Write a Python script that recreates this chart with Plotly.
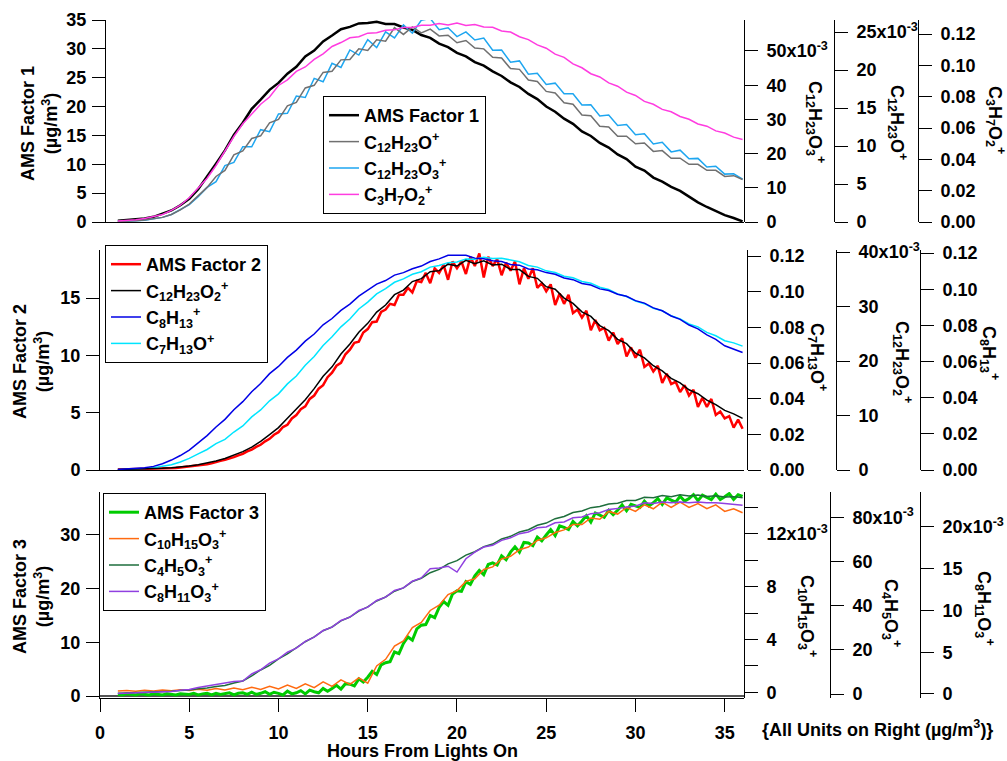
import plotly.graph_objects as go

# ---------------- data ----------------
HOURS = [1.0, 1.5, 2.0, 2.5, 3.0, 3.5, 4.0, 4.5, 5.0, 5.5, 6.0, 6.5, 7.0, 7.5, 8.0, 8.5,
         9.0, 9.5, 10.0, 10.5, 11.0, 11.5, 12.0, 12.5, 13.0, 13.5, 14.0, 14.5, 15.0, 15.5,
         16.0, 16.5, 17.0, 17.5, 18.0, 18.5, 19.0, 19.5, 20.0, 20.5, 21.0, 21.5, 22.0, 22.5,
         23.0, 23.5, 24.0, 24.5, 25.0, 25.5, 26.0, 26.5, 27.0, 27.5, 28.0, 28.5, 29.0, 29.5,
         30.0, 30.5, 31.0, 31.5, 32.0, 32.5, 33.0, 33.5, 34.0, 34.5, 35.0, 35.5, 36.0]

HOURS_Q = [1.0, 1.25, 1.5, 1.75, 2.0, 2.25, 2.5, 2.75, 3.0, 3.25, 3.5, 3.75,
           4.0, 4.25, 4.5, 4.75, 5.0, 5.25, 5.5, 5.75, 6.0, 6.25, 6.5, 6.75,
           7.0, 7.25, 7.5, 7.75, 8.0, 8.25, 8.5, 8.75, 9.0, 9.25, 9.5, 9.75,
           10.0, 10.25, 10.5, 10.75, 11.0, 11.25, 11.5, 11.75, 12.0, 12.25, 12.5, 12.75,
           13.0, 13.25, 13.5, 13.75, 14.0, 14.25, 14.5, 14.75, 15.0, 15.25, 15.5, 15.75,
           16.0, 16.25, 16.5, 16.75, 17.0, 17.25, 17.5, 17.75, 18.0, 18.25, 18.5, 18.75,
           19.0, 19.25, 19.5, 19.75, 20.0, 20.25, 20.5, 20.75, 21.0, 21.25, 21.5, 21.75,
           22.0, 22.25, 22.5, 22.75, 23.0, 23.25, 23.5, 23.75, 24.0, 24.25, 24.5, 24.75,
           25.0, 25.25, 25.5, 25.75, 26.0, 26.25, 26.5, 26.75, 27.0, 27.25, 27.5, 27.75,
           28.0, 28.25, 28.5, 28.75, 29.0, 29.25, 29.5, 29.75, 30.0, 30.25, 30.5, 30.75,
           31.0, 31.25, 31.5, 31.75, 32.0, 32.25, 32.5, 32.75, 33.0, 33.25, 33.5, 33.75,
           34.0, 34.25, 34.5, 34.75, 35.0, 35.25, 35.5, 35.75, 36.0]

# Panel 1
AMS_F1 = [0.2, 0.3, 0.4, 0.6, 0.9, 1.4, 2.0, 2.9, 4.0, 5.7, 7.8, 10.1, 12.4, 15.1, 17.2, 19.6,
          21.2, 22.9, 24.1, 25.7, 26.9, 28.7, 29.7, 31.3, 32.3, 33.4, 33.8, 34.4, 34.5, 34.7,
          34.3, 34.3, 33.7, 33.3, 32.4, 31.9, 30.9, 30.3, 29.3, 28.7, 27.7, 27.1, 26.1, 25.3,
          24.2, 23.4, 22.2, 21.3, 20.0, 19.1, 17.9, 17.0, 15.7, 14.9, 13.7, 12.9, 11.7, 10.9,
          9.6, 8.9, 7.7, 7.0, 6.1, 5.4, 4.4, 3.4, 2.6, 1.9, 1.2, 0.7, 0.1]
C12H23O = [0.00008, 0.00010, 0.00015, 0.00025, 0.00038, 0.00061, 0.00099, 0.00160, 0.00236,
           0.00342, 0.00456, 0.00600, 0.00680, 0.00885, 0.00935, 0.01100, 0.01135, 0.01305,
           0.01350, 0.01530, 0.01575, 0.01765, 0.01800, 0.01970, 0.01985, 0.02135, 0.02140,
           0.02280, 0.02260, 0.02400, 0.02380, 0.02560, 0.02470, 0.02570, 0.02490, 0.02540,
           0.02450, 0.02460, 0.02360, 0.02390, 0.02290, 0.02280, 0.02170, 0.02160, 0.02020,
           0.02010, 0.01870, 0.01850, 0.01720, 0.01700, 0.01570, 0.01550, 0.01410, 0.01400,
           0.01260, 0.01250, 0.01130, 0.01130, 0.01030, 0.01040, 0.00930, 0.00940, 0.00840,
           0.00840, 0.00760, 0.00760, 0.00680, 0.00680, 0.00600, 0.00610, 0.00560]
C12H23O3 = [0.00017, 0.00017, 0.00034, 0.00051, 0.00084, 0.00135, 0.00219, 0.00354, 0.00506,
            0.00742, 0.01012, 0.01180, 0.01650, 0.01740, 0.02200, 0.02200, 0.02700, 0.02640,
            0.03160, 0.03180, 0.03680, 0.03640, 0.04200, 0.04100, 0.04640, 0.04520, 0.05030,
            0.04880, 0.05330, 0.05100, 0.05560, 0.05380, 0.05760, 0.05520, 0.05900, 0.05950,
            0.05620, 0.05680, 0.05420, 0.05560, 0.05320, 0.05380, 0.05020, 0.05030, 0.04670,
            0.04710, 0.04320, 0.04350, 0.04020, 0.04060, 0.03750, 0.03750, 0.03420, 0.03430,
            0.03100, 0.03130, 0.02820, 0.02850, 0.02550, 0.02580, 0.02280, 0.02330, 0.02050,
            0.02100, 0.01850, 0.01860, 0.01610, 0.01630, 0.01400, 0.01410, 0.01250]
C3H7O2 = [0.0007, 0.0009, 0.0015, 0.0022, 0.0033, 0.0048, 0.0074, 0.0107, 0.0155, 0.0214,
          0.0280, 0.0361, 0.0453, 0.0546, 0.0627, 0.0690, 0.0752, 0.0798, 0.0872, 0.0908,
          0.0962, 0.0990, 0.1038, 0.1074, 0.1121, 0.1146, 0.1176, 0.1183, 0.1206, 0.1209,
          0.1224, 0.1227, 0.1242, 0.1242, 0.1257, 0.1257, 0.1268, 0.1258, 0.1270, 0.1255,
          0.1261, 0.1246, 0.1243, 0.1220, 0.1213, 0.1183, 0.1165, 0.1131, 0.1110, 0.1072,
          0.1051, 0.1010, 0.0985, 0.0947, 0.0926, 0.0888, 0.0867, 0.0829, 0.0808, 0.0770,
          0.0752, 0.0719, 0.0704, 0.0674, 0.0656, 0.0626, 0.0612, 0.0582, 0.0568, 0.0542,
          0.0527]

# Panel 2
AMS_F2 = [0.05, 0.06, 0.04, 0.05, 0.06, 0.05, 0.07, 0.08, 0.10, 0.09, 0.13, 0.12,
          0.16, 0.18, 0.21, 0.25, 0.30, 0.33, 0.38, 0.44, 0.50, 0.58, 0.66, 0.80,
          0.90, 1.00, 1.12, 1.28, 1.40, 1.62, 1.78, 2.02, 2.20, 2.50, 2.72, 3.08,
          3.30, 3.75, 3.95, 4.50, 4.80, 5.30, 5.55, 6.20, 6.50, 7.10, 7.40, 8.10,
          8.50, 9.10, 9.35, 10.10, 10.50, 11.10, 11.20, 12.00, 12.30, 12.90, 12.95, 13.80,
          14.00, 14.50, 14.40, 15.30, 15.30, 15.90, 15.50, 16.50, 16.40, 17.20, 16.30, 17.60,
          17.20, 17.90, 16.60, 18.20, 17.60, 18.20, 17.10, 18.60, 17.80, 18.90, 16.80, 18.60,
          17.80, 18.40, 17.00, 18.10, 17.40, 18.20, 16.20, 17.60, 16.70, 17.60, 15.90, 16.30,
          15.60, 16.20, 14.40, 15.40, 14.50, 15.30, 13.70, 14.00, 13.30, 13.90, 12.20, 13.10,
          12.20, 12.40, 11.30, 12.00, 11.00, 11.50, 9.90, 10.70, 9.80, 10.50, 9.00, 9.30,
          8.60, 9.10, 7.60, 8.40, 7.50, 7.70, 6.80, 7.40, 6.50, 7.00, 5.50, 6.30,
          5.50, 6.20, 4.80, 5.10, 4.50, 4.70, 3.70, 4.40, 3.60]
C12H23O2 = [0.00010, 0.00012, 0.00011, 0.00015, 0.00021, 0.00030, 0.00042, 0.00056, 0.00074,
            0.00098, 0.00126, 0.00165, 0.00210, 0.00270, 0.00337, 0.00420, 0.00526, 0.00650,
            0.00778, 0.00950, 0.01115, 0.01290, 0.01494, 0.01720, 0.01894, 0.02130, 0.02314,
            0.02530, 0.02693, 0.02900, 0.03030, 0.03220, 0.03303, 0.03460, 0.03514, 0.03640,
            0.03661, 0.03780, 0.03745, 0.03850, 0.03787, 0.03840, 0.03766, 0.03780, 0.03682,
            0.03680, 0.03556, 0.03520, 0.03366, 0.03320, 0.03156, 0.03060, 0.02904, 0.02820,
            0.02651, 0.02560, 0.02399, 0.02320, 0.02146, 0.02060, 0.01915, 0.01820, 0.01683,
            0.01600, 0.01473, 0.01400, 0.01283, 0.01200, 0.01094, 0.01030, 0.00947]
C8H13 = [0.0003, 0.0005, 0.0008, 0.0012, 0.0020, 0.0035, 0.0055, 0.0080, 0.0110, 0.0150,
         0.0190, 0.0238, 0.0280, 0.0333, 0.0378, 0.0433, 0.0478, 0.0533, 0.0573, 0.0623,
         0.0663, 0.0713, 0.0752, 0.0803, 0.0838, 0.0883, 0.0918, 0.0962, 0.0993, 0.1028,
         0.1048, 0.1078, 0.1092, 0.1113, 0.1128, 0.1153, 0.1168, 0.1188, 0.1188, 0.1188,
         0.1172, 0.1168, 0.1157, 0.1153, 0.1137, 0.1133, 0.1112, 0.1108, 0.1092, 0.1083,
         0.1062, 0.1053, 0.1032, 0.1023, 0.1002, 0.0993, 0.0972, 0.0961, 0.0937, 0.0923,
         0.0897, 0.0881, 0.0852, 0.0833, 0.0802, 0.0781, 0.0747, 0.0723, 0.0687, 0.0668,
         0.0650]
C7H13O = [0.0002, 0.0003, 0.0005, 0.0008, 0.0012, 0.0020, 0.0030, 0.0045, 0.0065, 0.0090,
          0.0115, 0.0148, 0.0172, 0.0213, 0.0247, 0.0298, 0.0337, 0.0388, 0.0427, 0.0483,
          0.0527, 0.0588, 0.0637, 0.0698, 0.0747, 0.0803, 0.0847, 0.0903, 0.0942, 0.0988,
          0.1017, 0.1053, 0.1072, 0.1098, 0.1112, 0.1138, 0.1147, 0.1163, 0.1167, 0.1183,
          0.1182, 0.1193, 0.1187, 0.1188, 0.1177, 0.1168, 0.1147, 0.1138, 0.1117, 0.1108,
          0.1087, 0.1078, 0.1057, 0.1048, 0.1025, 0.1013, 0.0987, 0.0973, 0.0947, 0.0933,
          0.0907, 0.0893, 0.0865, 0.0848, 0.0819, 0.0803, 0.0772, 0.0753, 0.0725, 0.0713,
          0.0695]

# Panel 3
AMS_F3 = [0.3, 0.2, 0.4, 0.3, 0.2, 0.4, 0.3, 0.2, 0.4, 0.3, 0.2, 0.4,
          0.3, 0.2, 0.4, 0.3, 0.3, 0.5, 0.2, 0.4, 0.5, 0.2, 0.5, 0.3,
          0.4, 0.6, 0.2, 0.5, 0.6, 0.3, 0.7, 0.3, 0.5, 0.8, 0.3, 0.7,
          0.5, 0.2, 0.9, 0.4, 0.6, 1.0, 0.4, 1.1, 0.8, 0.6, 1.4, 0.9,
          1.4, 2.0, 1.3, 2.3, 2.2, 1.9, 3.2, 2.6, 3.5, 4.6, 4.0, 5.8,
          6.2, 6.4, 8.2, 7.9, 9.8, 11.0, 10.4, 12.5, 13.2, 13.3, 15.0, 14.6,
          16.5, 17.6, 16.9, 19.0, 19.6, 19.5, 21.3, 20.8, 22.4, 23.4, 22.6, 24.5,
          24.8, 24.4, 26.1, 25.4, 26.8, 27.8, 26.8, 28.6, 28.5, 28.0, 29.6, 28.9,
          30.0, 31.0, 29.9, 31.7, 31.4, 31.0, 32.5, 31.7, 32.6, 33.6, 32.4, 34.1,
          33.7, 33.3, 34.6, 33.8, 34.6, 35.6, 34.5, 35.7, 35.4, 35.1, 36.3, 35.4,
          36.0, 36.8, 35.7, 36.9, 36.5, 36.1, 37.2, 36.3, 36.8, 37.5, 36.4, 37.4,
          37.0, 36.6, 37.6, 36.6, 37.1, 37.7, 36.6, 37.5, 37.2]
C10H15O3 = [0.00010, 0.00014, 0.00008, 0.00015, 0.00010, 0.00018, 0.00012, 0.00020, 0.00014,
            0.00024, 0.00016, 0.00028, 0.00018, 0.00032, 0.00020, 0.00038, 0.00022, 0.00045,
            0.00025, 0.00055, 0.00030, 0.00065, 0.00035, 0.00080, 0.00045, 0.00095, 0.00060,
            0.00110, 0.00070, 0.00200, 0.00250, 0.00350, 0.00390, 0.00490, 0.00530, 0.00620,
            0.00660, 0.00740, 0.00770, 0.00840, 0.00860, 0.00930, 0.00950, 0.01010, 0.01030,
            0.01080, 0.01100, 0.01150, 0.01170, 0.01210, 0.01230, 0.01270, 0.01270, 0.01320,
            0.01310, 0.01370, 0.01350, 0.01400, 0.01370, 0.01420, 0.01390, 0.01440, 0.01400,
            0.01440, 0.01400, 0.01430, 0.01390, 0.01420, 0.01370, 0.01390, 0.01360]
C4H5O3 = [0.0003, 0.0004, 0.0005, 0.0007, 0.0008, 0.0010, 0.0012, 0.0016, 0.0018, 0.0024,
          0.0027, 0.0034, 0.0039, 0.0050, 0.0059, 0.0082, 0.0109, 0.0130, 0.0159, 0.0182,
          0.0209, 0.0237, 0.0259, 0.0287, 0.0304, 0.0332, 0.0349, 0.0376, 0.0395, 0.0422,
          0.0440, 0.0466, 0.0481, 0.0510, 0.0525, 0.0550, 0.0565, 0.0590, 0.0605, 0.0630,
          0.0645, 0.0668, 0.0680, 0.0703, 0.0715, 0.0735, 0.0745, 0.0765, 0.0775, 0.0795,
          0.0805, 0.0823, 0.0830, 0.0845, 0.0850, 0.0862, 0.0865, 0.0877, 0.0878, 0.0892,
          0.0890, 0.0900, 0.0895, 0.0903, 0.0898, 0.0902, 0.0896, 0.0899, 0.0893, 0.0895,
          0.0890]
C8H11O3 = [0.00005, 0.00008, 0.00010, 0.00014, 0.00015, 0.00024, 0.00030, 0.00044, 0.00055,
           0.00078, 0.00095, 0.00118, 0.00130, 0.00150, 0.00156, 0.00240, 0.00290, 0.00370,
           0.00420, 0.00500, 0.00550, 0.00630, 0.00680, 0.00760, 0.00800, 0.00880, 0.00920,
           0.01000, 0.01040, 0.01120, 0.01160, 0.01240, 0.01270, 0.01350, 0.01390, 0.01500,
           0.01510, 0.01530, 0.01460, 0.01620, 0.01700, 0.01760, 0.01780, 0.01840, 0.01870,
           0.01920, 0.01940, 0.01990, 0.02000, 0.02050, 0.02060, 0.02110, 0.02120, 0.02160,
           0.02170, 0.02210, 0.02220, 0.02240, 0.02250, 0.02290, 0.02280, 0.02300, 0.02290,
           0.02300, 0.02290, 0.02300, 0.02290, 0.02290, 0.02280, 0.02270, 0.02260]

X_TICKS = [0, 5, 10, 15, 20, 25, 30, 35]

# ---------------- figure ----------------
W, H = 1007, 761
FONT = "Liberation Sans, Arial, Helvetica, sans-serif"
FS = 18
TF = dict(family=FONT, size=FS, color="black", weight="bold")


def px(x):
    return x / W


def py(y):
    return 1 - y / H


fig = go.Figure()


def add(xs, ys, name, color, width, xa, ya, legend):
    fig.add_trace(go.Scatter(x=xs, y=ys, name=name, mode="lines",
                             line=dict(color=color, width=width),
                             xaxis=xa, yaxis=ya, legend=legend))


add(HOURS, AMS_F1, "AMS Factor 1", "#000000", 2.5, "x", "y", "legend")
add(HOURS, C12H23O, "C<sub>12</sub>H<sub>23</sub>O<sup>+</sup>", "#707070", 1.5, "x", "y3", "legend")
add(HOURS, C12H23O3, "C<sub>12</sub>H<sub>23</sub>O<sub>3</sub><sup>+</sup>", "#1ea6f0", 1.5, "x", "y2", "legend")
add(HOURS, C3H7O2, "C<sub>3</sub>H<sub>7</sub>O<sub>2</sub><sup>+</sup>", "#ff3ce0", 1.5, "x", "y4", "legend")

add(HOURS_Q, AMS_F2, "AMS Factor 2", "#ff0000", 2.5, "x2", "y5", "legend2")
add(HOURS, C12H23O2, "C<sub>12</sub>H<sub>23</sub>O<sub>2</sub><sup>+</sup>", "#000000", 1.5, "x2", "y7", "legend2")
add(HOURS, C8H13, "C<sub>8</sub>H<sub>13</sub><sup>+</sup>", "#0000e6", 1.5, "x2", "y8", "legend2")
add(HOURS, C7H13O, "C<sub>7</sub>H<sub>13</sub>O<sup>+</sup>", "#00e5ff", 1.5, "x2", "y6", "legend2")

add(HOURS_Q, AMS_F3, "AMS Factor 3", "#00cc00", 3, "x3", "y9", "legend3")
add(HOURS, C10H15O3, "C<sub>10</sub>H<sub>15</sub>O<sub>3</sub><sup>+</sup>", "#ff6a10", 1.5, "x3", "y10", "legend3")
add(HOURS, C4H5O3, "C<sub>4</sub>H<sub>5</sub>O<sub>3</sub><sup>+</sup>", "#1e6e3c", 1.5, "x3", "y11", "legend3")
add(HOURS, C8H11O3, "C<sub>8</sub>H<sub>11</sub>O<sub>3</sub><sup>+</sup>", "#9040e0", 1.5, "x3", "y12", "legend3")

X0 = 100.0
XPPH = 644.0 / 36.08  # pixels per hour

common = dict(showgrid=False, zeroline=False, showline=True, linecolor="black",
              linewidth=1, tickfont=TF, automargin=False, ticklen=13, tickwidth=1,
              tickcolor="black")


def left_axis(dom, rng, dtick, anchor):
    d = dict(common)
    d.update(domain=[py(dom[1]), py(dom[0])], range=rng, dtick=dtick, tick0=0,
             ticks="outside", anchor=anchor, side="left", ticklabelstandoff=2)
    return d


def right_axis(pos, rng, vals, texts, overlay):
    d = dict(common)
    d.update(overlaying=overlay, side="right", anchor="free", position=px(pos),
             range=rng, tickvals=vals, ticktext=texts, ticks="outside",
             ticklabelstandoff=5)
    return d


SUPM3 = "x10<sup>-3</sup>"

layout = dict(
    width=W, height=H, margin=dict(l=0, r=0, t=0, b=0),
    paper_bgcolor="white", plot_bgcolor="rgba(0,0,0,0)",
    template="none", showlegend=True,
    font=dict(family=FONT, size=FS, color="black", weight="bold"),
    xaxis=dict(common, domain=[px(106), px(744)], range=[(106 - X0) / XPPH, 36.08],
               anchor="y", ticks="", showticklabels=False),
    xaxis2=dict(common, domain=[px(100), px(744)], range=[0, 36.08], anchor="y5",
                ticks="", showticklabels=False),
    xaxis3=dict(common, domain=[px(100), px(744)], range=[0, 36.08], anchor="y9",
                ticks="outside", tickvals=X_TICKS, ticklabelstandoff=5),
    yaxis=left_axis((20, 222), [0, 35], 5, "x"),
    yaxis2=right_axis(744, [0, 0.05906], [0, 0.01, 0.02, 0.03, 0.04, 0.05],
                      ["0", "10", "20", "30", "40", "50" + SUPM3], "y"),
    yaxis3=right_axis(834, [0, 0.0266], [0, 0.005, 0.010, 0.015, 0.020, 0.025],
                      ["0", "5", "10", "15", "20", "25" + SUPM3], "y"),
    yaxis4=right_axis(918, [0, 0.129], [0, 0.02, 0.04, 0.06, 0.08, 0.10, 0.12],
                      ["0.00", "0.02", "0.04", "0.06", "0.08", "0.10", "0.12"], "y"),
    yaxis5=left_axis((250, 470), [0, 19.2], 5, "x2"),
    yaxis6=right_axis(747, [0, 0.1234], [0, 0.02, 0.04, 0.06, 0.08, 0.10, 0.12],
                      ["0.00", "0.02", "0.04", "0.06", "0.08", "0.10", "0.12"], "y5"),
    yaxis7=right_axis(836, [0, 0.0404], [0, 0.01, 0.02, 0.03, 0.04],
                      ["0", "10", "20", "30", "40" + SUPM3], "y5"),
    yaxis8=right_axis(920, [0, 0.1217], [0, 0.02, 0.04, 0.06, 0.08, 0.10, 0.12],
                      ["0.00", "0.02", "0.04", "0.06", "0.08", "0.10", "0.12"], "y5"),
    yaxis9=dict(left_axis((492, 698), [-0.37, 38.0], 10, "x3"),
                zeroline=True, zerolinecolor="#555555", zerolinewidth=2),
    yaxis10=right_axis(744, [-0.00043, 0.01517],
                       [0, 0.002, 0.004, 0.006, 0.008, 0.010, 0.012, 0.014],
                       ["0", "", "4", "", "8", "", "12" + SUPM3, ""], "y9"),
    yaxis11=right_axis(830, [-0.00181, 0.0916], [0, 0.02, 0.04, 0.06, 0.08],
                       ["0", "20", "40", "60", "80" + SUPM3], "y9"),
    yaxis12=right_axis(920, [-0.00048, 0.02419], [0, 0.005, 0.010, 0.015, 0.020],
                       ["0", "5", "10", "15", "20" + SUPM3], "y9"),
)


def leg(x, y):
    return dict(x=px(x), y=py(y), xanchor="left", yanchor="top", bgcolor="white",
                bordercolor="black", borderwidth=1, tracegroupgap=0, itemwidth=30,
                font=dict(family=FONT, size=FS, color="black", weight="bold"))


layout["legend"] = leg(323, 96)
layout["legend2"] = leg(105, 245)
layout["legend3"] = leg(103, 493)

fig.update_layout(**layout)

AF = dict(family=FONT, size=FS, color="black", weight="bold")


def note(text, x, y, angle=0):
    fig.add_annotation(text=text, x=px(x), y=py(y), xref="paper", yref="paper",
                       showarrow=False, textangle=angle, xanchor="center",
                       yanchor="middle", font=AF)


note("AMS Factor 1<br>(µg/m<sup>3</sup>)", 39, 124, -90)
note("AMS Factor 2<br>(µg/m<sup>3</sup>)", 31, 362, -90)
note("AMS Factor 3<br>(µg/m<sup>3</sup>)", 31, 597, -90)

note("C<sub>12</sub>H<sub>23</sub>O<sub>3</sub><sup>+</sup>", 816, 122, 90)
note("C<sub>12</sub>H<sub>23</sub>O<sup>+</sup>", 898, 122, 90)
note("C<sub>3</sub>H<sub>7</sub>O<sub>2</sub><sup>+</sup>", 995, 120, 90)

note("C<sub>7</sub>H<sub>13</sub>O<sup>+</sup>", 818, 357, 90)
note("C<sub>12</sub>H<sub>23</sub>O<sub>2</sub><sup>+</sup>", 903, 362, 90)
note("C<sub>8</sub>H<sub>13</sub><sup>+</sup>", 990, 353, 90)

note("C<sub>10</sub>H<sub>15</sub>O<sub>3</sub><sup>+</sup>", 808, 616, 90)
note("C<sub>4</sub>H<sub>5</sub>O<sub>3</sub><sup>+</sup>", 892, 613, 90)
note("C<sub>8</sub>H<sub>11</sub>O<sub>3</sub><sup>+</sup>", 985, 608, 90)

note("Hours From Lights On", 422, 751)
note("{All Units on Right (µg/m<sup>3</sup>)}", 877, 728)

fig.write_html("out.html")
